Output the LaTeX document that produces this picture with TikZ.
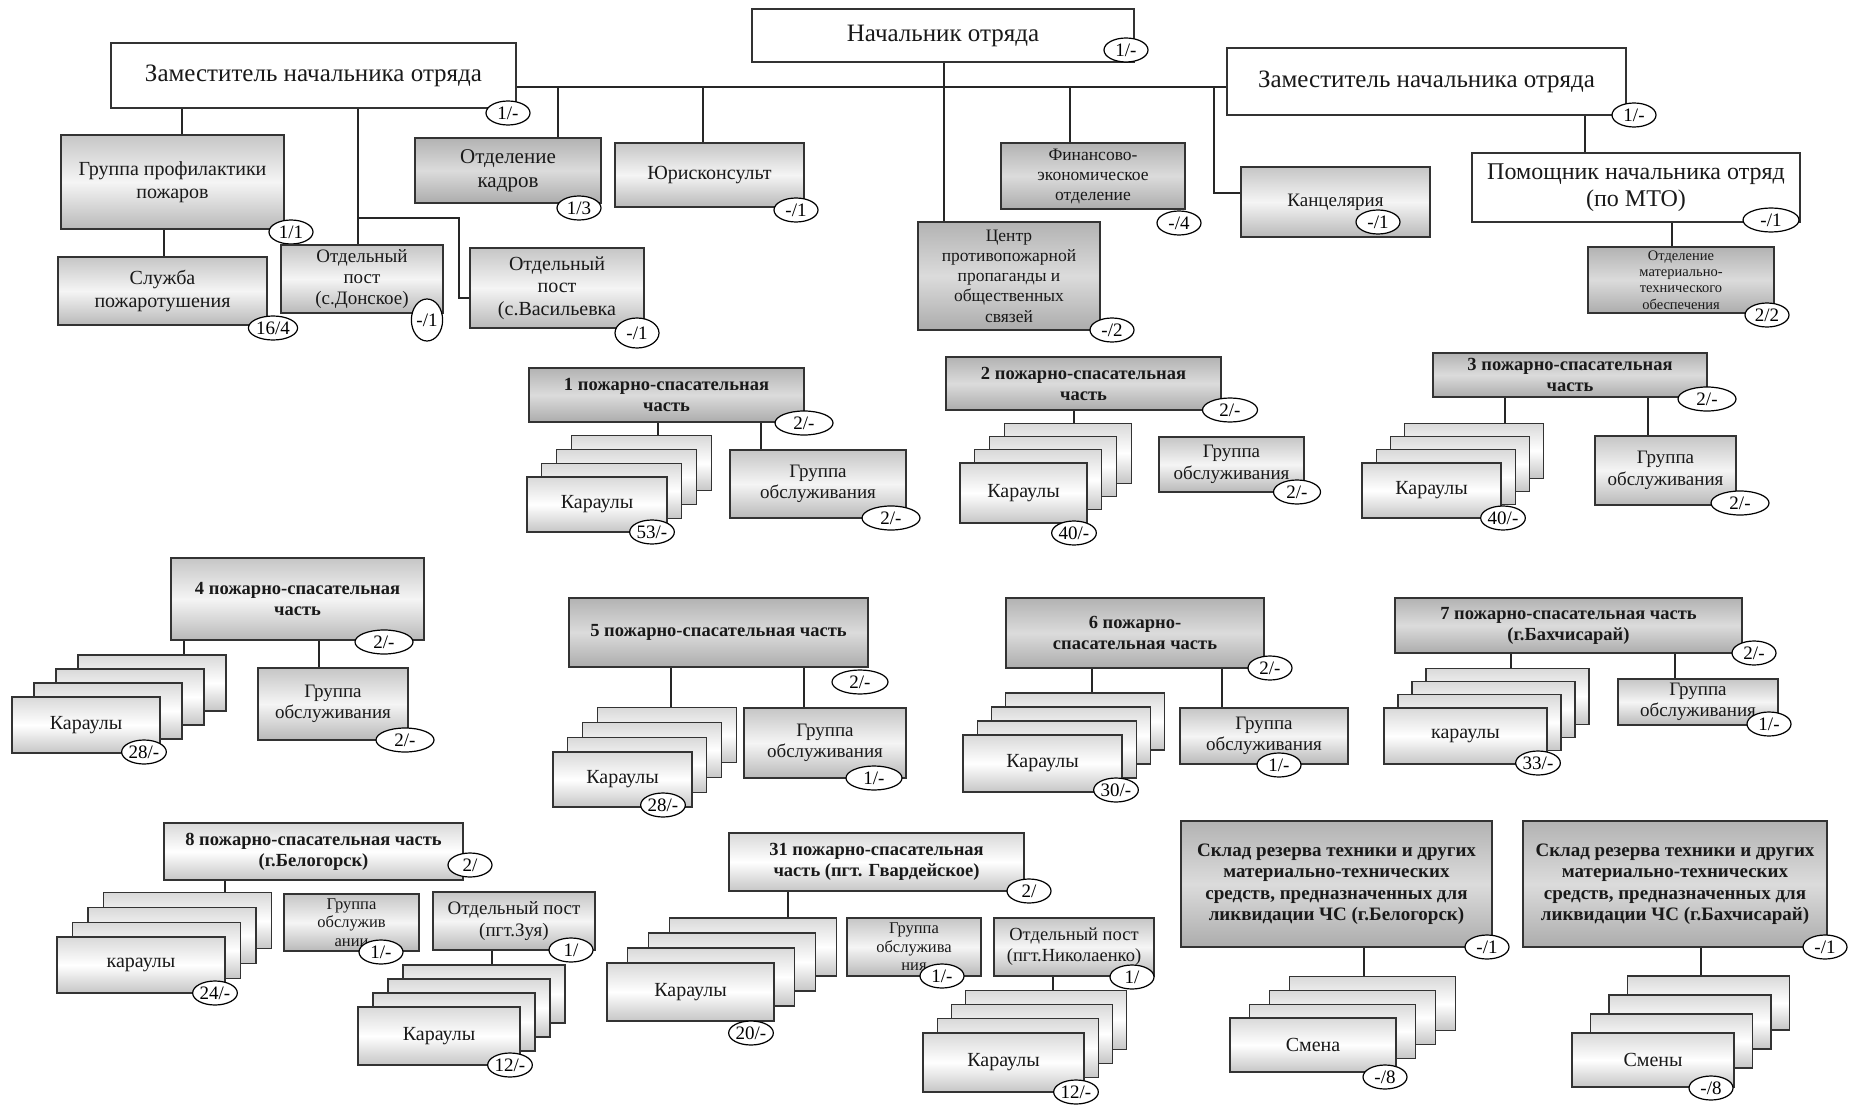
\documentclass[tikz,border=0pt]{standalone}
\usepackage{fontspec}
\setmainfont{Liberation Serif}
\usetikzlibrary{shapes.geometric}
\pgfdeclarelayer{bg}
\pgfsetlayers{bg,main}
\newcommand\fsz[2]{\fontsize{#1}{#2}\selectfont}
\newcommand\bx[7]{\node[#6, minimum width={(#4-#2)*1pt}, minimum height={(#5-#3)*1pt}] (#1) at ({(#2+#4)/2},{(#3+#5)/2}) {#7};}
\newcommand\stk[9]{%
  \foreach \i in {3,2,1}{%
    \node[#8, minimum width={(#4-#2)*1pt}, minimum height={(#5-#3)*1pt}] (#1-\i) at ({(#2+#4)/2+#6*\i},{(#3+#5)/2-#7*\i}) {};}
  \node[#8, minimum width={(#4-#2)*1pt}, minimum height={(#5-#3)*1pt}] (#1) at ({(#2+#4)/2},{(#3+#5)/2}) {#9};}
\tikzset{
 box/.style={draw=black!80, line width=1.1pt, inner sep=1pt, align=center, text=black!90},
 wbox/.style={box, fill=white},
 lbox/.style={box, top color=gray!30, bottom color=gray!45, middle color=white},
 gbox/.style={box, top color=gray!45, bottom color=gray!55, middle color=gray!8},
 dbox/.style={box, top color=gray!60, bottom color=gray!65, middle color=gray!28},
 badge/.style={ellipse, draw=black, line width=1.2pt, fill=white, inner xsep=0.5pt, inner ysep=0pt, minimum width=44pt, minimum height=24pt, font=\fsz{19}{19}},
 conn/.style={draw=black!85, line width=1.4pt},
 tfont/.style={font=\fsz{25}{28}},
 pfont/.style={font=\bfseries\fsz{18.5}{21}},
 gfont/.style={font=\fsz{19}{21.5}},
 kbox/.style={lbox, font=\fsz{20}{20}},
 sfont/.style={font=\bfseries\fsz{19}{21.5}},
}
\begin{document}
\begin{tikzpicture}[x=1pt,y=-1pt]
\begin{pgfonlayer}{bg}
\fill[white] (0,0) rectangle (1851,1107);
\end{pgfonlayer}
\useasboundingbox (0,0) rectangle (1851,1107);
% ---------- top level
\bx{nach}{752}{9}{1134}{62}{wbox,tfont}{Начальник отряда}
\node[badge] (nachb) at (1126,50) {1/-};
\bx{zamL}{111}{43}{516}{108}{wbox,tfont}{Заместитель начальника отряда}
\node[badge] (zamLb) at (508,113) {1/-};
\bx{zamR}{1227}{48}{1626}{115}{wbox,tfont}{Заместитель начальника отряда}
\node[badge] (zamRb) at (1634,115) {1/-};
% ---------- departments
\bx{gpp}{61}{135}{284}{229}{gbox,font=\fsz{20}{22.5}}{Группа профилактики\\пожаров}
\node[badge] (gppb) at (291,232) {1/1};
\bx{slu}{58}{257}{267}{325}{gbox,font=\fsz{20}{22.5}}{Служба\\пожаротушения}
\node[badge] (slub) at (273,328) {16/4};
\bx{don}{281}{245}{443}{313}{gbox,font=\fsz{19}{21}}{Отдельный\\пост\\(с.Донское)}
\node[badge, minimum width=26pt, minimum height=42pt] (donb) at (427,320) {-/1};
\bx{vas}{470}{248}{644}{328}{gbox,font=\fsz{20}{22.5}}{Отдельный\\пост\\(с.Васильевка}
\node[badge, minimum height=30pt] (vasb) at (637,333) {-/1};
\bx{kad}{415}{138}{601}{203}{dbox,font=\fsz{21}{24}}{Отделение\\кадров}
\node[badge] (kadb) at (579,208) {1/3};
\bx{jur}{615}{143}{804}{207}{gbox,font=\fsz{20}{20}}{Юрисконсульт}
\node[badge] (jurb) at (796,210) {-/1};
\bx{fin}{1001}{143}{1185}{209}{dbox,font=\fsz{17.5}{20}}{Финансово-\\экономическое\\отделение}
\node[badge] (finb) at (1179,223) {-/4};
\bx{cent}{918}{222}{1100}{330}{dbox,font=\fsz{17.5}{20.3}}{Центр\\противопожарной\\пропаганды и\\общественных\\связей}
\node[badge] (centb) at (1112,330) {-/2};
\bx{kan}{1241}{167}{1430}{237}{gbox,font=\fsz{19}{19}}{Канцелярия}
\node[badge] (kanb) at (1378,222) {-/1};
\bx{pom}{1472}{153}{1800}{222}{wbox,font=\fsz{24}{27}}{Помощник начальника отряд\\(по МТО)}
\node[badge, minimum width=56pt] (pomb) at (1771,220) {-/1};
\bx{mto}{1588}{247}{1774}{313}{dbox,font=\fsz{14.5}{16.3}}{Отделение\\материально-\\технического\\обеспечения}
\node[badge] (mtob) at (1767,315) {2/2};
% ---------- row 2
\bx{p1}{529}{368}{804}{422}{dbox,pfont}{1 пожарно-спасательная\\часть}
\node[badge, minimum width=58pt] (p1b) at (804,423) {2/-};
\stk{k1}{527}{477}{667}{532}{14.7}{13.7}{kbox}{Караулы}
\node[badge] (k1b) at (652,532) {53/-};
\bx{g1}{730}{450}{906}{518}{gbox,gfont}{Группа\\обслуживания}
\node[badge, minimum width=58pt] (g1b) at (891,518) {2/-};

\bx{p2}{946}{357}{1221}{410}{dbox,pfont}{2 пожарно-спасательная\\часть}
\node[badge, minimum width=55pt] (p2b) at (1230,410) {2/-};
\stk{k2}{960}{463}{1087}{523}{14.7}{13.3}{kbox}{Караулы}
\node[badge] (k2b) at (1074,533) {40/-};
\bx{g2}{1159}{437}{1304}{492}{gbox,gfont}{Группа\\обслуживания}
\node[badge, minimum width=47pt] (g2b) at (1297,492) {2/-};

\bx{p3}{1433}{353}{1707}{397}{dbox,pfont}{3 пожарно-спасательная\\часть}
\node[badge, minimum width=58pt] (p3b) at (1707,399) {2/-};
\stk{k3}{1362}{463}{1501}{518}{14.3}{13.3}{kbox}{Караулы}
\node[badge] (k3b) at (1503,518) {40/-};
\bx{g3}{1595}{436}{1736}{505}{gbox,gfont}{Группа\\обслуживания}
\node[badge, minimum width=58pt] (g3b) at (1740,503) {2/-};
% ---------- row 3
\bx{p4}{171}{558}{424}{640}{gbox,pfont}{4 пожарно-спасательная\\часть}
\node[badge, minimum width=58pt] (p4b) at (384,642) {2/-};
\stk{k4}{12}{697}{160}{753}{22}{14}{kbox}{Караулы}
\node[badge] (k4b) at (144,752) {28/-};
\bx{g4}{258}{668}{408}{740}{gbox,gfont}{Группа\\обслуживания}
\node[badge, minimum width=58pt] (g4b) at (405,740) {2/-};

\bx{p5}{569}{598}{868}{667}{dbox,pfont}{5 пожарно-спасательная часть}
\node[badge, minimum width=56pt] (p5b) at (860,682) {2/-};
\stk{k5}{553}{752}{692}{807}{14.7}{14.7}{kbox}{Караулы}
\node[badge] (k5b) at (663,805) {28/-};
\bx{g5}{744}{708}{906}{778}{gbox,gfont}{Группа\\обслуживания}
\node[badge, minimum width=56pt] (g5b) at (874,778) {1/-};

\bx{p6}{1006}{598}{1264}{668}{dbox,pfont}{6 пожарно-\\спасательная часть}
\node[badge] (p6b) at (1270,668) {2/-};
\stk{k6}{963}{735}{1122}{792}{14.3}{14}{kbox}{Караулы}
\node[badge] (k6b) at (1116,790) {30/-};
\bx{g6}{1180}{708}{1348}{764}{gbox,gfont}{Группа\\обслуживания}
\node[badge] (g6b) at (1279,765) {1/-};

\bx{p7}{1395}{598}{1742}{653}{dbox,pfont}{7 пожарно-спасательная часть\\(г.Бахчисарай)}
\node[badge] (p7b) at (1754,653) {2/-};
\stk{k7}{1384}{708}{1547}{764}{14}{13.3}{kbox}{караулы}
\node[badge] (k7b) at (1538,763) {33/-};
\bx{g7}{1618}{679}{1778}{725}{gbox,gfont}{Группа\\обслуживания}
\node[badge] (g7b) at (1769,724) {1/-};
% ---------- row 4
\bx{p8}{164}{823}{463}{880}{lbox,pfont}{8 пожарно-спасательная часть\\(г.Белогорск)}
\node[badge] (p8b) at (470,865) {2/};
\stk{k8}{57}{937}{225}{993}{15.5}{14.7}{kbox}{караулы}
\node[badge] (k8b) at (215,993) {24/-};
\bx{g8}{284}{894}{419}{951}{gbox,font=\fsz{16.5}{18.5}}{Группа\\обслужив\\ании}
\node[badge] (g8b) at (381,952) {1/-};
\bx{oz}{433}{892}{595}{950}{gbox,font=\fsz{19}{21.5}}{Отдельный пост\\(пгт.Зуя)}
\node[badge] (ozb) at (571,950) {1/};
\stk{kz}{358}{1007}{520}{1065}{15}{14}{kbox}{Караулы}
\node[badge] (kzb) at (510,1065) {12/-};

\bx{p31}{729}{833}{1024}{891}{lbox,pfont}{31 пожарно-спасательная\\часть (пгт. Гвардейское)}
\node[badge] (p31b) at (1029,891) {2/};
\stk{k31}{607}{963}{774}{1021}{20.7}{15}{kbox}{Караулы}
\node[badge] (k31b) at (751,1033) {20/-};
\bx{g31}{847}{918}{981}{976}{gbox,font=\fsz{16.5}{18.5}}{Группа\\обслужива\\ния}
\node[badge] (g31b) at (942,976) {1/-};
\bx{on}{994}{918}{1154}{976}{gbox,font=\fsz{18.5}{21}}{Отдельный пост\\(пгт.Николаенко)}
\node[badge] (onb) at (1132,977) {1/};
\stk{kn}{923}{1033}{1084}{1092}{14.2}{14.3}{kbox}{Караулы}
\node[badge] (knb) at (1076,1092) {12/-};

\bx{s1}{1181}{821}{1492}{947}{dbox,sfont}{Склад резерва техники и других\\материально-технических\\средств, предназначенных для\\ликвидации ЧС (г.Белогорск)}
\node[badge] (s1b) at (1487,947) {-/1};
\stk{ks1}{1230}{1018}{1396}{1072}{19.7}{13.7}{kbox}{Смена}
\node[badge] (ks1b) at (1385,1077) {-/8};
\bx{s2}{1523}{821}{1827}{947}{dbox,sfont}{Склад резерва техники и других\\материально-технических\\средств, предназначенных для\\ликвидации ЧС (г.Бахчисарай)}
\node[badge] (s2b) at (1825,947) {-/1};
\stk{ks2}{1572}{1033}{1734}{1087}{18.5}{19}{kbox}{Смены}
\node[badge] (ks2b) at (1711,1088) {-/8};
% ---------- connectors
\begin{pgfonlayer}{bg}
\coordinate (bus) at (0,87);
\draw[conn] (zamL.east |- bus) -- (zamR.west |- bus);
\draw[conn] (nach.south -| 944,0) -- (cent.north -| 944,0);
\draw[conn] (zamL.south -| 182,0) -- (gpp.north -| 182,0);
\draw[conn] (gpp.south -| 164,0) -- (slu.north -| 164,0);
\draw[conn] (zamL.south -| 358,0) -- (don.north -| 358,0);
\coordinate (br) at (358,218);
\draw[conn] (br) -| (459,298) -- (vas.west |- 0,298);
\draw[conn] (bus -| 558,0) -- (kad.north -| 558,0);
\draw[conn] (bus -| 703,0) -- (jur.north -| 703,0);
\draw[conn] (bus -| 1070,0) -- (fin.north -| 1070,0);
\draw[conn] (bus -| 1214,0) |- (kan.west |- 0,193);
\draw[conn] (zamR.south -| 1585,0) -- (pom.north -| 1585,0);
\draw[conn] (pom.south -| 1672,0) -- (mto.north -| 1672,0);
\draw[conn] (p1.south -| 658,0) -- (k1-3.north -| 658,0);
\draw[conn] (p1.south -| 761,0) -- (g1.north -| 761,0);
\draw[conn] (p2.south -| 1074,0) -- (k2-3.north -| 1074,0);
\draw[conn] (p3.south -| 1505,0) -- (k3-3.north -| 1505,0);
\draw[conn] (p3.south -| 1648,0) -- (g3.north -| 1648,0);
\draw[conn] (p4.south -| 184,0) -- (k4-3.north -| 184,0);
\draw[conn] (p4.south -| 319,0) -- (g4.north -| 319,0);
\draw[conn] (p5.south -| 671,0) -- (k5-3.north -| 671,0);
\draw[conn] (p5.south -| 804,0) -- (g5.north -| 804,0);
\draw[conn] (p6.south -| 1092,0) -- (k6-3.north -| 1092,0);
\draw[conn] (p6.south -| 1222,0) -- (g6.north -| 1222,0);
\draw[conn] (p7.south -| 1511,0) -- (k7-3.north -| 1511,0);
\draw[conn] (p7.south -| 1675,0) -- (g7.north -| 1675,0);
\draw[conn] (p8.south -| 225,0) -- (k8-3.north -| 225,0);
\draw[conn] (oz.south -| 492,0) -- (kz-3.north -| 492,0);
\draw[conn] (p31.south -| 788,0) -- (k31-3.north -| 788,0);
\draw[conn] (on.south -| 1053,0) -- (kn-3.north -| 1053,0);
\draw[conn] (s1.south -| 1364,0) -- (ks1-3.north -| 1364,0);
\draw[conn] (s2.south -| 1701,0) -- (ks2-3.north -| 1701,0);
\end{pgfonlayer}
\end{tikzpicture}
\end{document}
